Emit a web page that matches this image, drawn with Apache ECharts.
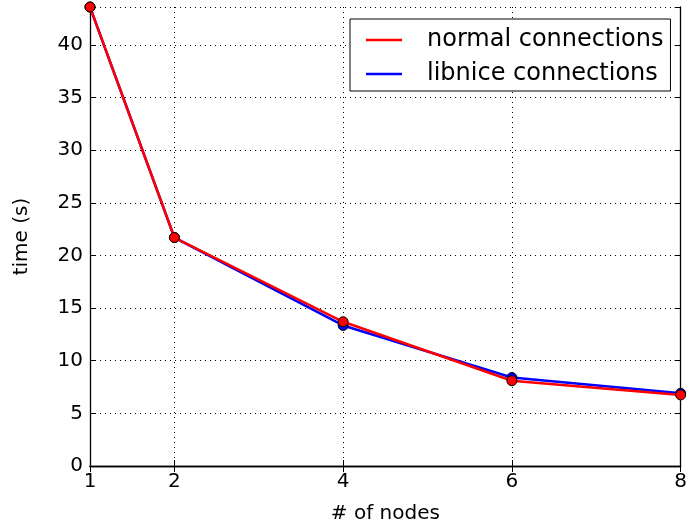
<!DOCTYPE html>
<html><head><meta charset="utf-8">
<script src="https://cdn.jsdelivr.net/npm/echarts@6/dist/echarts.min.js"></script>
<style>html,body{margin:0;padding:0;background:#fff}#c{width:690px;height:530px}</style>
</head><body><div id="c"></div>
<script>
const nodes = [1, 2, 4, 6, 8];
const normalTimes = [43.6, 21.7, 13.7, 8.1, 6.75];
const libniceTimes = [43.6, 21.7, 13.35, 8.4, 6.9];
const xTickValues = [1, 2, 4, 6, 8];
const seriesNames = ['normal connections', 'libnice connections'];

const FONT = 'DejaVu Sans';
const chart = echarts.init(document.getElementById('c'), null, {renderer: 'canvas'});
const pairs = (ys) => nodes.map((x, i) => [x, ys[i]]);
const axisLineStyle = {show: true, lineStyle: {color: '#000', width: 1.3}};
const gridLine = {show: true, lineStyle: {color: '#000', type: [1, 4], width: 1}};

chart.setOption({
  animation: false,
  grid: {left: 90, right: 8, top: 7, bottom: 64, show: false},
  xAxis: [{
    type: 'value', min: 1, max: 8,
    name: '# of nodes', nameLocation: 'middle', nameGap: 38,
    nameTextStyle: {fontFamily: FONT, fontSize: 20, color: '#000'},
    axisLine: axisLineStyle,
    axisTick: {show: true, inside: true, length: 6, customValues: xTickValues, lineStyle: {color: '#000'}},
    axisLabel: {fontFamily: FONT, fontSize: 20, color: '#000', margin: 6, customValues: xTickValues},
    splitLine: gridLine
  }, {
    type: 'value', min: 1, max: 8, position: 'top',
    axisLine: axisLineStyle,
    axisTick: {show: true, inside: true, length: 6, customValues: xTickValues, lineStyle: {color: '#000'}},
    axisLabel: {show: false},
    splitLine: {show: false}
  }],
  yAxis: [{
    type: 'value', min: 0, max: 43.6, interval: 5,
    name: 'time (s)', nameLocation: 'middle', nameGap: 58,
    nameTextStyle: {fontFamily: FONT, fontSize: 20, color: '#000'},
    axisLine: axisLineStyle,
    axisTick: {show: true, inside: true, length: 6, lineStyle: {color: '#000'}},
    axisLabel: {fontFamily: FONT, fontSize: 20, color: '#000', margin: 7, showMaxLabel: false},
    splitLine: gridLine
  }, {
    type: 'value', min: 0, max: 43.6, interval: 5, position: 'right',
    axisLine: axisLineStyle,
    axisTick: {show: true, inside: true, length: 6, lineStyle: {color: '#000'}},
    axisLabel: {show: false},
    splitLine: {show: false}
  }],
  legend: {
    orient: 'vertical', left: 350, top: 19,
    padding: [9, 7, 5, 16], itemGap: 10,
    itemWidth: 36, itemHeight: 2.5,
    borderColor: '#000', borderWidth: 1, backgroundColor: '#fff',
    textStyle: {fontFamily: FONT, fontSize: 24, color: '#000', padding: [0, 0, 0, 20]},
    data: [
      {name: seriesNames[0], icon: 'rect', itemStyle: {color: '#ff0000', borderWidth: 0}},
      {name: seriesNames[1], icon: 'rect', itemStyle: {color: '#0000ff', borderWidth: 0}}
    ]
  },
  series: [{
    name: seriesNames[1], type: 'line', data: pairs(libniceTimes), z: 2,
    symbol: 'circle', symbolSize: 10,
    lineStyle: {color: '#0000ff', width: 2.5},
    itemStyle: {color: '#0000ff', borderColor: '#000', borderWidth: 1}
  }, {
    name: seriesNames[0], type: 'line', data: pairs(normalTimes), z: 3,
    symbol: 'circle', symbolSize: 10,
    lineStyle: {color: '#ff0000', width: 2.5},
    itemStyle: {color: '#ff0000', borderColor: '#000', borderWidth: 1}
  }]
});
</script></body></html>
